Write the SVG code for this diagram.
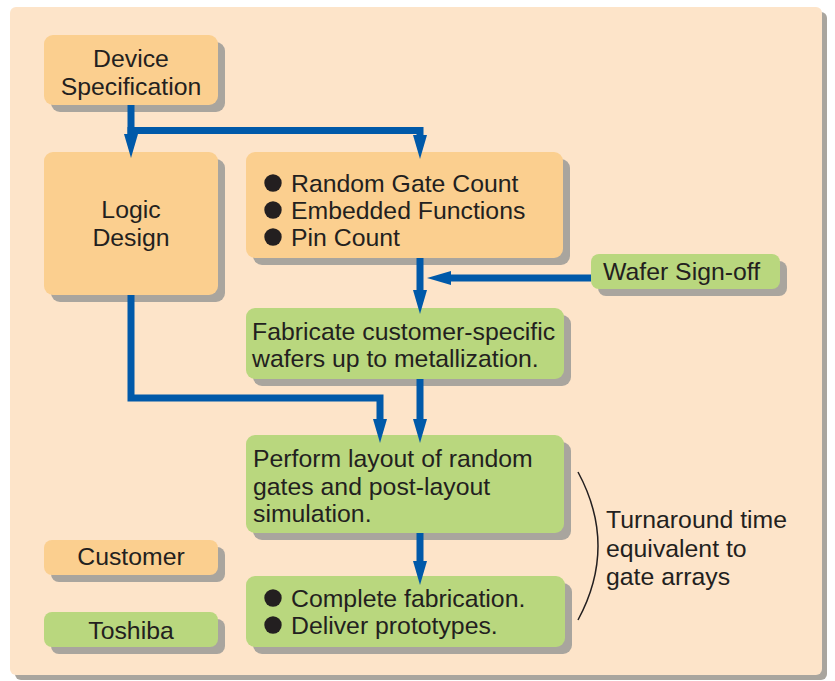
<svg xmlns="http://www.w3.org/2000/svg" width="835" height="681" viewBox="0 0 835 681">
<style>
text{font-family:"Liberation Sans",Arial,sans-serif;font-size:24.8px;fill:#231f20}
.c{text-anchor:middle}
.sh{fill:#a9a59e}
.or{fill:#fbcf8f}
.gr{fill:#b9d77e}
.ln{fill:none;stroke:#0059a9;stroke-width:7;stroke-linejoin:miter}
.bul{fill:#231f20}
</style>
<defs>
<marker id="ah" markerUnits="userSpaceOnUse" markerWidth="24" markerHeight="14" refX="0" refY="7" orient="auto" overflow="visible">
<path d="M0,0 L24,7 L0,14 z" fill="#0059a9"/>
</marker>
</defs>
<rect x="15" y="12" width="812" height="668" rx="6" fill="#a9a59e"/>
<rect x="10" y="7" width="812" height="668" rx="6" fill="#fde4c9"/>

<g id="device-spec">
<rect class="sh" x="51" y="42" width="174" height="70" rx="9"/>
<rect class="or" x="44" y="35" width="174" height="70" rx="9"/>
<text class="c" x="131" y="67">Device</text>
<text class="c" x="131" y="95">Specification</text>
</g>
<g id="logic-design">
<rect class="sh" x="51" y="159" width="174" height="143" rx="9"/>
<rect class="or" x="44" y="152" width="174" height="143" rx="9"/>
<text class="c" x="131" y="218">Logic</text>
<text class="c" x="131" y="246">Design</text>
</g>
<g id="requirements">
<rect class="sh" x="253" y="159" width="317" height="106" rx="9"/>
<rect class="or" x="246" y="152" width="317" height="106" rx="9"/>
<circle class="bul" cx="273" cy="183" r="8.7"/>
<circle class="bul" cx="273" cy="210" r="8.7"/>
<circle class="bul" cx="273" cy="237" r="8.7"/>
<text x="291" y="192">Random Gate Count</text>
<text x="291" y="219">Embedded Functions</text>
<text x="291" y="246">Pin Count</text>
</g>
<g id="wafer-signoff">
<rect class="sh" x="598" y="261" width="189" height="35" rx="8"/>
<rect class="gr" x="591" y="254" width="189" height="35" rx="8"/>
<text x="603" y="280">Wafer Sign-off</text>
</g>
<g id="fabricate">
<rect class="sh" x="253" y="315" width="318" height="71" rx="9"/>
<rect class="gr" x="246" y="308" width="318" height="71" rx="9"/>
<text x="252" y="340">Fabricate customer-specific</text>
<text x="252" y="367">wafers up to metallization.</text>
</g>
<g id="layout">
<rect class="sh" x="253" y="442" width="318" height="98" rx="9"/>
<rect class="gr" x="246" y="435" width="318" height="98" rx="9"/>
<text x="253" y="467">Perform layout of random</text>
<text x="253" y="495">gates and post-layout</text>
<text x="253" y="522">simulation.</text>
</g>
<g id="complete">
<rect class="sh" x="253" y="583" width="319" height="71" rx="9"/>
<rect class="gr" x="246" y="576" width="319" height="71" rx="9"/>
<circle class="bul" cx="273" cy="598" r="8.7"/>
<circle class="bul" cx="273" cy="625" r="8.7"/>
<text x="291" y="607">Complete fabrication.</text>
<text x="291" y="634">Deliver prototypes.</text>
</g>
<g id="legend-customer">
<rect class="sh" x="51" y="547" width="174" height="35" rx="8"/>
<rect class="or" x="44" y="540" width="174" height="35" rx="8"/>
<text class="c" x="131" y="565">Customer</text>
</g>
<g id="legend-toshiba">
<rect class="sh" x="51" y="619" width="174" height="35" rx="8"/>
<rect class="gr" x="44" y="612" width="174" height="35" rx="8"/>
<text class="c" x="131" y="639">Toshiba</text>
</g>
<g id="turnaround">
<path d="M578,472 Q618,546 578,620" fill="none" stroke="#231f20" stroke-width="1.5"/>
<text x="606" y="528">Turnaround time</text>
<text x="606" y="557">equivalent to</text>
<text x="606" y="585">gate arrays</text>
</g>
<g id="connectors">
<path class="ln" d="M131,105 V134" marker-end="url(#ah)"/>
<path class="ln" d="M127.5,130.5 H420 V135" marker-end="url(#ah)"/>
<path class="ln" d="M420,258 V290" marker-end="url(#ah)"/>
<path class="ln" d="M591,278 H451" marker-end="url(#ah)"/>
<path class="ln" d="M420,379 V419" marker-end="url(#ah)"/>
<path class="ln" d="M131,295 V398 H380 V419" marker-end="url(#ah)"/>
<path class="ln" d="M420,533 V561" marker-end="url(#ah)"/>
</g>
</svg>
